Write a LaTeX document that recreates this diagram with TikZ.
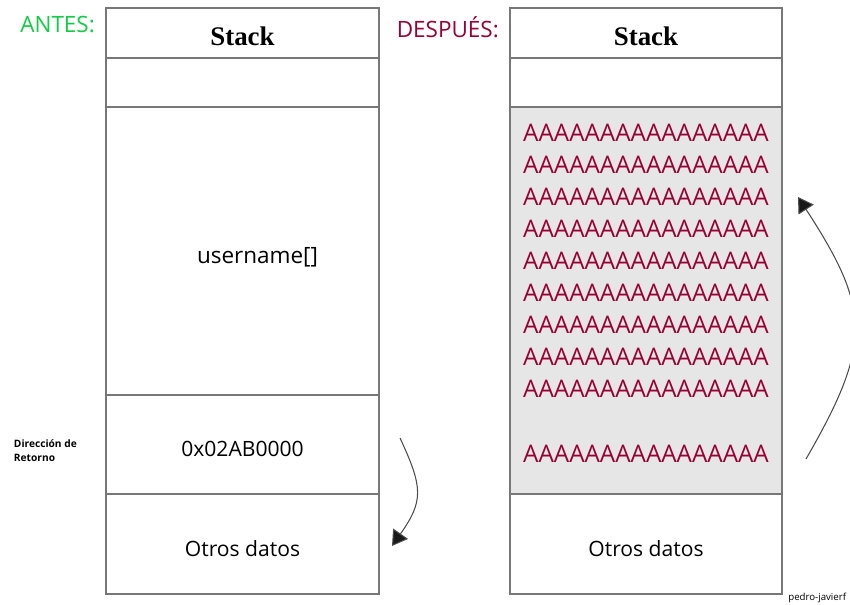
\documentclass[tikz,border=0pt]{standalone}
\usepackage{fontspec}
\setmainfont{Open Sans}
\newfontfamily\stackfont{Liberation Serif}
\usepackage{xcolor}
\usepackage{tikz}
\usetikzlibrary{positioning, arrows.meta}
\definecolor{antesgreen}{RGB}{17,204,68}
\definecolor{overred}{RGB}{153,0,51}
\definecolor{bordergray}{RGB}{120,120,120}
\definecolor{fillgray}{RGB}{230,230,230}
\tikzstyle{cell} = [rectangle, minimum width=5.46cm, inner sep=0pt, outer sep=0pt, text centered, text height=14pt, text depth=0pt, draw=bordergray, line width=0.8pt, font=\fontsize{12}{14}\selectfont]
\tikzstyle{head} = [cell, minimum height=1cm, font=\stackfont\bfseries\fontsize{15.3}{17}\selectfont]
\tikzstyle{overflow} = [align=center, text=overred, font=\fontsize{13.8}{18.2}\selectfont]
\tikzstyle{tag} = [font=\fontsize{12.8}{15}\selectfont]
\tikzstyle{arrow} = [line width=0.6pt, draw=black!70, -{Triangle[length=0.3cm,width=0.36cm,fill=black!90]}, looseness=1.3]

\begin{document}
\begin{tikzpicture}
		\useasboundingbox (0,0) rectangle (17,-12.1);
		% antes
		\node (lhead) [head, anchor=north west] at (2.12,-0.16) {Stack};
		\node (lfree) [cell, minimum height=0.98cm, below=0cm of lhead] {};
		\node (lbuf) [cell, minimum height=5.76cm, below=0cm of lfree, font=\fontsize{12.8}{15}\selectfont] {\hspace*{0.6cm}username[]};
		\node (lret) [cell, minimum height=1.98cm, below=0cm of lbuf] {0x02AB0000};
		\node (lotros) [cell, minimum height=2cm, below=0cm of lret] {Otros datos};
		\node (antes) [tag, text=antesgreen, below left=0.04cm and 0.1cm of lhead.north west] {ANTES:};
		\node (dir) [align=left, font=\bfseries\fontsize{5.8}{8}\selectfont, left=0.46cm of lret, yshift=-0.12cm] {Dirección de\\Retorno};
		% despues
		\node (rhead) [head, minimum width=5.44cm, anchor=north west] at (10.2,-0.16) {Stack};
		\node (rfree) [cell, minimum width=5.44cm, minimum height=0.98cm, below=0cm of rhead] {};
		\node (rbuf) [cell, minimum width=5.44cm, minimum height=7.74cm, fill=fillgray, below=0cm of rfree] {};
		\node (rotros) [cell, minimum width=5.44cm, minimum height=2cm, below=0cm of rbuf] {Otros datos};
		\node (despues) [tag, text=overred, below left=0.04cm and 0.1cm of rhead.north west] {DESPUÉS:};
		\node (aaa) [overflow, below=0.22cm of rbuf.north] {AAAAAAAAAAAAAAAA\\AAAAAAAAAAAAAAAA\\AAAAAAAAAAAAAAAA\\AAAAAAAAAAAAAAAA\\AAAAAAAAAAAAAAAA\\AAAAAAAAAAAAAAAA\\AAAAAAAAAAAAAAAA\\AAAAAAAAAAAAAAAA\\AAAAAAAAAAAAAAAA\\[19pt]AAAAAAAAAAAAAAAA};
		\node (firma) [inner sep=0pt, font=\fontsize{5.5}{7}\selectfont, right=0.12cm of rotros.south east, yshift=-0.08cm] {pedro-javierf};
		% flechas
		\coordinate (lstart) at ([xshift=0.42cm,yshift=0.13cm]lret.east);
		\coordinate (lend) at ([xshift=0.26cm,yshift=-0.04cm]lotros.east);
		\coordinate (rstart) at ([xshift=0.48cm,yshift=-3.17cm]rbuf.east);
		\coordinate (rend) at ([xshift=0.32cm,yshift=2.07cm]rbuf.east);
		\draw [arrow] (lstart) to[out=-65,in=55] (lend);
		\draw [arrow] (rstart) to[out=60,in=-57] (rend);
	\end{tikzpicture}
\end{document}
